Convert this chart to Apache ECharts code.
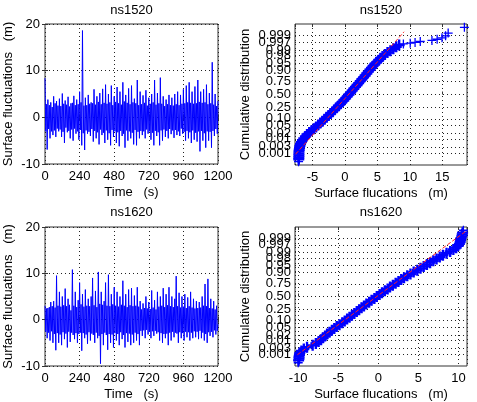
<!DOCTYPE html>
<html><head><meta charset="utf-8">
<script src="https://cdn.jsdelivr.net/npm/echarts@6/dist/echarts.min.js"></script>
<style>html,body{margin:0;padding:0;background:#fff}#c{width:477px;height:402px}</style>
</head><body><div id="c"></div>
<script>
// ---------- data ----------
const timeStep = 5; // seconds between samples
const timeTicks = [0, 240, 480, 720, 960, 1200];
const fluctTicks = [-10, 0, 10, 20];
const ns1520Series = [
  8.4, -3.0, 2.8, -6.9, 3.8, -2.5, 2.6, -4.5, 3.2, -3.0, 2.2, -3.8, 4.5, -2.8, 3.0, -4.2, 3.5, -2.4, 2.5, -3.0,
  4.0, -2.6, 2.4, -4.2, 5.1, -3.1, 2.9, -5.5, 3.6, -2.2, 2.7, -3.2, 4.4, -2.9, 2.3, -4.5, 3.0, -2.6, 3.1, -5.0,
  4.6, -2.4, 2.6, -3.5, 3.8, -3.0, 2.8, -4.8, 5.5, -2.7, 3.2, -6.0, 18.6, -3.4, 2.5, -7.0, 4.2, -2.8, 2.6, -3.5,
  4.8, -3.1, 2.9, -4.0, 3.2, -2.5, 3.0, -5.2, 6.0, -2.9, 2.7, -4.5, 4.5, -3.2, 3.3, -5.8, 5.2, -2.6, 2.8, -3.8,
  6.1, -3.3, 3.1, -5.5, 7.0, -2.8, 2.9, -4.8, 5.0, -3.4, 3.2, -6.0, 6.8, -2.7, 2.6, -4.2, 4.5, -3.0, 3.3, -5.5,
  6.5, -3.2, 3.0, -6.2, 5.5, -2.9, 2.7, -4.0, 7.5, -3.5, 3.4, -6.5, 4.8, -2.8, 3.1, -5.0, 6.2, -3.0, 2.8, -4.5,
  6.8, -3.3, 3.2, -5.8, 4.0, -2.7, 3.0, -6.0, 8.0, -3.1, 2.6, -4.5, 5.5, -2.9, 2.8, -3.8, 4.7, -3.0, 3.1, -4.5,
  5.8, -2.6, 2.5, -3.5, 4.2, -3.0, 2.9, -4.8, 5.0, -3.3, 3.2, -6.0, 8.0, -2.9, 2.7, -4.0, 5.2, -3.2, 3.0, -6.0,
  8.5, -2.8, 2.9, -5.0, 4.5, -2.6, 2.4, -4.2, 3.8, -2.9, 2.8, -4.5, 4.8, -2.5, 2.6, -3.6, 4.2, -2.8, 2.5, -4.4,
  5.0, -2.7, 2.8, -3.8, 5.5, -3.0, 2.6, -4.0, 4.8, -2.4, 2.9, -3.5, 6.0, -3.1, 3.0, -5.0, 6.8, -2.9, 3.2, -4.5,
  7.5, -3.2, 3.1, -5.5, 5.5, -2.8, 2.9, -4.8, 6.6, -3.3, 3.0, -5.2, 8.0, -3.0, 3.3, -7.3, 5.5, -2.9, 3.1, -5.0,
  6.0, -3.4, 3.2, -6.5, 7.0, -3.0, 2.8, -5.0, 5.2, -3.1, 3.0, -6.5, 11.8, -2.9, 2.7, -4.0, 5.0, -2.5, 2.4, -3.5,
  3.5
];
const ns1620Series = [
  3.0, -2.6, 2.4, -4.0, 2.5, -2.8, 2.7, -4.5, 3.8, -2.5, 2.9, -5.0, 4.0, -3.1, 2.6, -6.6, 9.5, -2.9, 3.0, -5.0,
  6.0, -3.2, 2.8, -5.5, 5.0, -2.7, 3.1, -4.2, 6.7, -3.0, 2.9, -6.0, 4.5, -2.6, 3.2, -4.8, 2.0, -2.8, 10.8, -3.3,
  3.0, -4.2, 6.0, -2.9, 2.7, -5.0, 4.2, -3.1, 8.0, -2.8, 3.3, -6.7, 5.5, -2.9, 2.8, -4.0, 6.5, -3.2, 3.0, -5.2,
  4.5, -2.7, 2.9, -4.5, 5.0, -3.0, 9.0, -3.3, 3.1, -5.0, 6.2, -2.8, 2.7, -4.0, 10.3, -3.5, 3.4, -9.5, 6.0, -3.1,
  3.2, -5.5, 4.0, -2.8, 8.0, -3.3, 3.0, -6.5, 9.7, -3.1, 2.9, -5.0, 5.5, -3.2, 3.3, -6.0, 7.0, -2.9, 3.0, -4.5,
  6.0, -3.1, 2.8, -5.5, 5.0, -2.7, 3.2, -4.2, 8.4, -3.3, 3.0, -6.0, 5.5, -2.9, 2.7, -4.8, 6.5, -3.0, 3.1, -5.5,
  6.8, -3.2, 2.9, -5.0, 5.2, -2.8, 3.0, -4.5, 7.0, -3.1, 2.8, -5.5, 4.0, -2.4, 2.2, -3.5, 3.5, -2.3, 2.5, -4.0,
  5.0, -2.2, 2.4, -3.2, 3.8, -2.6, 2.3, -4.0, 6.3, -2.5, 2.6, -3.5, 4.2, -2.4, 2.2, -3.0, 6.0, -2.7, 2.8, -4.5,
  5.0, -2.9, 3.0, -5.0, 6.8, -3.1, 2.7, -4.0, 5.5, -3.0, 3.1, -5.5, 7.0, -2.8, 2.9, -4.5, 5.0, -2.6, 2.7, -3.8,
  4.5, -2.8, 9.4, -3.0, 2.9, -5.0, 5.8, -2.7, 2.6, -4.0, 5.0, -2.9, 2.8, -4.5, 5.5, -2.6, 2.5, -3.8, 4.8, -2.7,
  2.9, -4.5, 6.0, -2.8, 2.6, -4.0, 4.5, -2.5, 2.4, -3.8, 4.0, -2.6, 2.5, -4.2, 3.8, -2.4, 2.6, -4.0, 5.0, -2.8,
  3.0, -4.5, 7.7, -3.1, 2.9, -5.0, 8.8, -2.7, 2.5, -3.5, 4.5, -2.6, 2.4, -3.8, 4.0, -2.3, 2.2, -3.2, 3.0, -2.4,
  -1.0
];

// normal probability plot
const probTickLabels = ['0.001','0.003','0.01','0.02','0.05','0.10','0.25','0.50','0.75','0.90','0.95','0.98','0.99','0.997','0.999'];
const qqProbLevels = [
  0.00034, 0.00048, 0.00069, 0.00097, 0.00135, 0.00187, 0.00256, 0.00347, 0.00466, 0.00621,
  0.0082, 0.0107, 0.0139, 0.0179, 0.0228, 0.0287, 0.0359, 0.0446, 0.0548, 0.0668,
  0.0808, 0.0968, 0.1151, 0.1357, 0.1587, 0.1841, 0.2119, 0.2420, 0.2743, 0.3085,
  0.3446, 0.3821, 0.4207, 0.4602, 0.5, 0.5398, 0.5793, 0.6179, 0.6554, 0.6915,
  0.7257, 0.7580, 0.7881, 0.8159, 0.8413, 0.8643, 0.8849, 0.9032, 0.9192, 0.9332,
  0.9452, 0.9554, 0.9641, 0.9713, 0.9772, 0.9821, 0.9861, 0.9893, 0.9918, 0.99379,
  0.99534, 0.99653, 0.99744, 0.99813, 0.99865, 0.99903, 0.99931, 0.99952, 0.99966
];
const qq1520Values = [
  -7.12, -7.11, -7.1, -7.1, -7.09, -7.05, -7.0, -6.95, -6.85, -6.7,
  -6.55, -6.35, -6.1, -5.85, -5.5, -5.15, -4.8, -4.45, -4.13, -3.8,
  -3.47, -3.15, -2.83, -2.52, -2.21, -1.9, -1.6, -1.3, -1.02, -0.74,
  -0.46, -0.18, 0.1, 0.36, 0.61, 0.86, 1.11, 1.36, 1.61, 1.86,
  2.11, 2.36, 2.61, 2.86, 3.11, 3.36, 3.6, 3.84, 4.08, 4.33,
  4.6, 4.9, 5.2, 5.48, 5.78, 6.15, 6.55, 7.0, 7.45, 7.9,
  8.35
];
const qq1520ExtraValues = [-7.15, 9.0, 10.05, 10.8, 11.6, 13.4, 14.2, 14.95, 15.5, 15.9, 18.4];
const qq1520ExtraProbs  = [0.00021, 0.99604, 0.99646, 0.99688, 0.99729, 0.99771, 0.99813, 0.99854, 0.99896, 0.99937, 0.99979];
const qq1520FitValues = [-7.6, 9.1];
const qq1520FitProbs  = [0.00087, 0.9995];

const qq1620Values = [
  -9.95, -9.9, -9.9, -9.85, -9.8, -9.6, -9.3, -8.9, -8.2, -7.8,
  -7.45, -7.15, -6.9, -6.65, -6.4, -6.1, -5.8, -5.5, -5.2, -4.85,
  -4.5, -4.2, -3.9, -3.6, -3.3, -3.0, -2.7, -2.4, -2.1, -1.8,
  -1.5, -1.15, -0.85, -0.5, -0.2, 0.15, 0.45, 0.8, 1.15, 1.45,
  1.8, 2.15, 2.5, 2.85, 3.2, 3.6, 4.0, 4.4, 4.85, 5.25,
  5.65, 6.05, 6.45, 6.85, 7.25, 7.65, 8.05, 8.5, 8.95, 9.35,
  9.7, 9.95, 10.1, 10.2, 10.25, 10.3, 10.4, 10.45, 10.5
];
const qq1620ExtraValues = [-10.0, 10.6];
const qq1620ExtraProbs  = [0.00021, 0.99979];
const qq1620FitValues = [-10.1, 11.0];
const qq1620FitProbs  = [0.00097, 0.99977];

// ---------- helpers ----------
function norminv(p) {
  const a=[-3.969683028665376e+01,2.209460984245205e+02,-2.759285104469687e+02,1.383577518672690e+02,-3.066479806614716e+01,2.506628277459239e+00];
  const b=[-5.447609879822406e+01,1.615858368580409e+02,-1.556989798598866e+02,6.680131188771972e+01,-1.328068155288572e+01];
  const c=[-7.784894002430293e-03,-3.223964580411365e-01,-2.400758277161838e+00,-2.549732539343734e+00,4.374664141464968e+00,2.938163982698783e+00];
  const d=[7.784695709041462e-03,3.224671290700398e-01,2.445134137142996e+00,3.754408661907416e+00];
  const pl = 0.02425, ph = 1 - pl;
  let q, r;
  if (p < pl) { q = Math.sqrt(-2*Math.log(p)); return (((((c[0]*q+c[1])*q+c[2])*q+c[3])*q+c[4])*q+c[5])/((((d[0]*q+d[1])*q+d[2])*q+d[3])*q+1); }
  if (p > ph) { q = Math.sqrt(-2*Math.log(1-p)); return -(((((c[0]*q+c[1])*q+c[2])*q+c[3])*q+c[4])*q+c[5])/((((d[0]*q+d[1])*q+d[2])*q+d[3])*q+1); }
  q = p - 0.5; r = q*q;
  return (((((a[0]*r+a[1])*r+a[2])*r+a[3])*r+a[4])*r+a[5])*q/(((((b[0]*r+b[1])*r+b[2])*r+b[3])*r+b[4])*r+1);
}
const FONT = "'Liberation Sans', Arial, sans-serif";
const AX = '#333';
const GRIDLINE = {show: true, lineStyle: {color: '#222', width: 1, type: [1, 3]}};
const TXT = {color: '#000', fontSize: 13, fontFamily: FONT};
const CROSS_THIN = 'path://M6,0h2v6h6v2h-6v6h-2v-6h-6v-2h6z';
const CROSS_BOLD = 'path://M5.5,0h3v5.5h5.5v3h-5.5v5.5h-3v-5.5h-5.5v-3h5.5z';

const tsData = arr => arr.map((v, i) => [i * timeStep, v]);
const qqData = (vals, probs) => vals.map((v, i) => [v, norminv(probs[i])]);

function tsX(gi) {
  return {gridIndex: gi, type: 'value', min: timeTicks[0], max: timeTicks[timeTicks.length-1], interval: 240,
    name: 'Time   (s)', nameLocation: 'middle', nameGap: 22, nameTextStyle: TXT,
    axisLine: {show: false}, axisTick: {inside: true, length: 3, lineStyle: {color: AX}},
    axisLabel: Object.assign({margin: 6, formatter: v => String(v)}, TXT), splitLine: GRIDLINE};
}
function tsY(gi) {
  return {gridIndex: gi, type: 'value', min: fluctTicks[0], max: fluctTicks[fluctTicks.length-1], interval: 10,
    name: 'Surface fluctuations   (m)', nameLocation: 'middle', nameGap: 30, nameTextStyle: TXT,
    axisLine: {show: false}, axisTick: {inside: true, length: 3, lineStyle: {color: AX}},
    axisLabel: Object.assign({margin: 5, formatter: v => String(v)}, TXT), splitLine: GRIDLINE};
}
function qqX(gi, mn, mx) {
  return {gridIndex: gi, type: 'value', min: mn, max: mx, splitNumber: 5,
    name: 'Surface flucations   (m)', nameLocation: 'middle', nameGap: 22, nameTextStyle: TXT,
    axisLine: {show: false}, axisTick: {inside: true, length: 3, lineStyle: {color: AX}},
    axisLabel: Object.assign({margin: 6, showMinLabel: false, showMaxLabel: false,
      formatter: v => (Math.abs(v % 5) < 1e-9 ? String(v) : '')}, TXT),
    splitLine: GRIDLINE};
}
function qqY(gi) {
  return {gridIndex: gi, type: 'value', min: -3.7, max: 3.7,
    name: 'Cumulative distribution', nameLocation: 'middle', nameGap: 43, nameTextStyle: TXT,
    axisLine: {show: false}, axisTick: {show: false}, axisLabel: {show: false}, splitLine: {show: false}};
}
function topAxis(base) {
  return Object.assign({}, base, {position: 'top', name: '', axisLabel: {show: false}, splitLine: {show: false}});
}
function probGridLines() {
  return {
    silent: true, symbol: ['none', 'none'], z: 1,
    lineStyle: {color: '#222', width: 1, type: [1, 3]},
    label: {position: 'start', distance: 4, color: '#000', fontSize: 13, fontFamily: FONT},
    data: probTickLabels.map(t => ({yAxis: norminv(parseFloat(t)), label: {formatter: t}}))
  };
}

const grids = [
  {left: 45, top: 24, width: 173, height: 140},
  {left: 295, top: 24, width: 172, height: 141},
  {left: 45, top: 227, width: 173, height: 139},
  {left: 295, top: 227, width: 172, height: 139}
].map(g => Object.assign({show: true, borderColor: AX, borderWidth: 1, backgroundColor: '#fff', containLabel: false, outerBoundsMode: 'none'}, g));

const x0 = tsX(0), x1 = qqX(1, -7.7, 18.8), x2 = tsX(2), x3 = qqX(3, -10.4, 11.05);
const y0 = tsY(0), y1 = qqY(1), y2 = tsY(2), y3 = qqY(3);

function titleText(x, y, t) {
  return {type: 'text', x: x, y: y, style: {text: t, textAlign: 'center', textVerticalAlign: 'middle', verticalAlign: 'middle', fontSize: 13, fontFamily: FONT, fill: '#000'}};
}

const option = {
  animation: false,
  backgroundColor: '#fff',
  textStyle: {fontFamily: FONT},
  grid: grids,
  xAxis: [x0, x1, x2, x3, topAxis(x0), topAxis(x1), topAxis(x2), topAxis(x3)],
  yAxis: [y0, y1, y2, y3,
    Object.assign({}, y0, {position: 'right', name: '', axisLabel: {show: false}, splitLine: {show: false}}),
    Object.assign({}, y2, {position: 'right', name: '', axisLabel: {show: false}, splitLine: {show: false}})],
  graphic: [
    titleText(131.5, 10, 'ns1520'), titleText(381, 10, 'ns1520'),
    titleText(131.5, 212, 'ns1620'), titleText(381, 212, 'ns1620')
  ],
  series: [
    {type: 'line', xAxisIndex: 0, yAxisIndex: 0, data: tsData(ns1520Series), showSymbol: false, symbol: 'none',
      lineStyle: {color: '#0000ff', width: 1}, z: 2},
    {type: 'line', xAxisIndex: 2, yAxisIndex: 2, data: tsData(ns1620Series), showSymbol: false, symbol: 'none',
      lineStyle: {color: '#0000ff', width: 1}, z: 2},
    {type: 'scatter', xAxisIndex: 1, yAxisIndex: 1, z: 2,
      data: qqData(qq1520Values, qqProbLevels),
      symbol: CROSS_BOLD, symbolSize: 11, itemStyle: {color: '#0000ff', opacity: 1},
      markLine: probGridLines()},
    {type: 'scatter', xAxisIndex: 1, yAxisIndex: 1, z: 2,
      data: qqData(qq1520ExtraValues, qq1520ExtraProbs),
      symbol: CROSS_THIN, symbolSize: 9, itemStyle: {color: '#0000ff', opacity: 1}},
    {type: 'line', xAxisIndex: 1, yAxisIndex: 1, z: 3, data: qqData(qq1520FitValues, qq1520FitProbs),
      showSymbol: false, symbol: 'none', lineStyle: {color: '#ff2020', width: 1, type: [4, 2]}},
    {type: 'scatter', xAxisIndex: 3, yAxisIndex: 3, z: 2,
      data: qqData(qq1620Values, qqProbLevels),
      symbol: CROSS_BOLD, symbolSize: 11, itemStyle: {color: '#0000ff', opacity: 1},
      markLine: probGridLines()},
    {type: 'scatter', xAxisIndex: 3, yAxisIndex: 3, z: 2,
      data: qqData(qq1620ExtraValues, qq1620ExtraProbs),
      symbol: CROSS_THIN, symbolSize: 9, itemStyle: {color: '#0000ff', opacity: 1}},
    {type: 'line', xAxisIndex: 3, yAxisIndex: 3, z: 3, data: qqData(qq1620FitValues, qq1620FitProbs),
      showSymbol: false, symbol: 'none', lineStyle: {color: '#ff2020', width: 1, type: [4, 2]}}
  ]
};
const chart = echarts.init(document.getElementById('c'), null, {renderer: 'canvas', width: 477, height: 402});
chart.setOption(option);
</script>
</body></html>
